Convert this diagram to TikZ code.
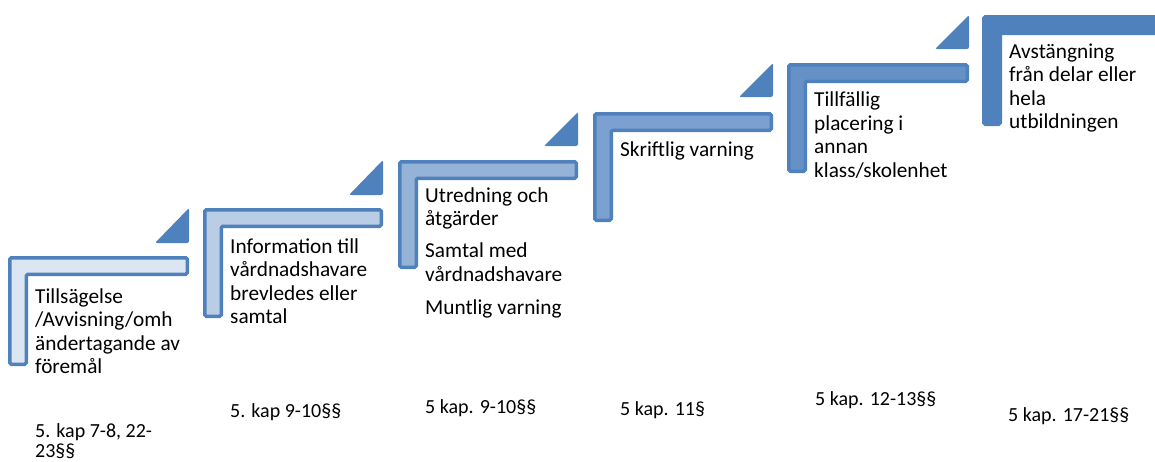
\documentclass[tikz,border=0pt]{standalone}
\usepackage{fontspec}
\setmainfont{Carlito}
\definecolor{acc}{HTML}{4F81BD}
\definecolor{f1}{HTML}{DCE6F2}
\definecolor{f2}{HTML}{B9CDE5}
\definecolor{f3}{HTML}{95B3D7}
\definecolor{f4}{HTML}{7BA1D0}
\definecolor{f5}{HTML}{6591C7}
\definecolor{f6}{HTML}{4F81BD}
\newcommand{\Lshape}[5]{%
  \draw[stepL,fill=#5] (#1+1.75,#2+1.75) -- (#3-1.75,#2+1.75) -- (#3-1.75,#2+18.25)
    -- (#1+18.25,#2+18.25) -- (#1+18.25,#4-1.75) -- (#1+1.75,#4-1.75) -- cycle;}
\newcommand{\Tri}[3]{%
  \fill[acc,rounded corners=2pt] (#1-34,#3) -- (#1,#2) -- (#1,#3) -- cycle;}
\begin{document}
\begin{tikzpicture}[x=1pt,y=-1pt,
  stepL/.style={draw=acc,line width=3.5pt,rounded corners=1.5pt},
  txt/.style={anchor=west,align=left,inner sep=0pt,font=\fontsize{21.3}{23.5}\selectfont,text=black},
  ref/.style={anchor=west,align=left,inner sep=0pt,font=\fontsize{20}{20.5}\selectfont,text=black}]
\useasboundingbox (0,0) rectangle (1155,461);
\clip (0,0) rectangle (1155,461);
\Lshape{8}{256}{189}{366}{f1}
\Lshape{203}{208}{383}{318}{f2}
\Lshape{398}{160}{578}{269}{f3}
\Lshape{593}{112}{773}{222}{f4}
\Lshape{787}{63}{969}{173}{f5}
\Lshape{982}{15}{1180}{126}{f6}
\Tri{189}{208}{243}
\Tri{383}{160}{195}
\Tri{578}{112}{146}
\Tri{773}{63}{97}
\Tri{969}{15}{49}
\node[txt] (t1) at (35,331) {Tillsägelse\\/Avvisning/omh\\ändertagande av\\föremål};
\node[txt] (t2) at (230,281) {Information till\\vårdnadshavare\\brevledes eller\\samtal};
\node[txt] (t3) at (425,253) {Utredning och\\åtgärder\\[8.5pt]Samtal med\\vårdnadshavare\\[10pt]Muntlig varning};
\node[txt] (t4) at (620,151) {Skriftlig varning};
\node[txt] (t5) at (814,135) {Tillfällig\\placering i\\annan\\klass/skolenhet};
\node[txt] (t6) at (1009,88) {Avstängning\\från delar eller\\hela\\utbildningen};
\node[ref] (r1) at (35,441) {5. kap 7-8, 22-\\23§§};
\node[ref] (r2) at (230,412) {5. kap 9-10§§};
\node[ref] (r3) at (425,408) {5 kap. 9-10§§};
\node[ref] (r4) at (620,410) {5 kap. 11§};
\node[ref] (r5) at (815,400) {5 kap. 12-13§§};
\node[ref] (r6) at (1008,416) {5 kap. 17-21§§};
\end{tikzpicture}
\end{document}
